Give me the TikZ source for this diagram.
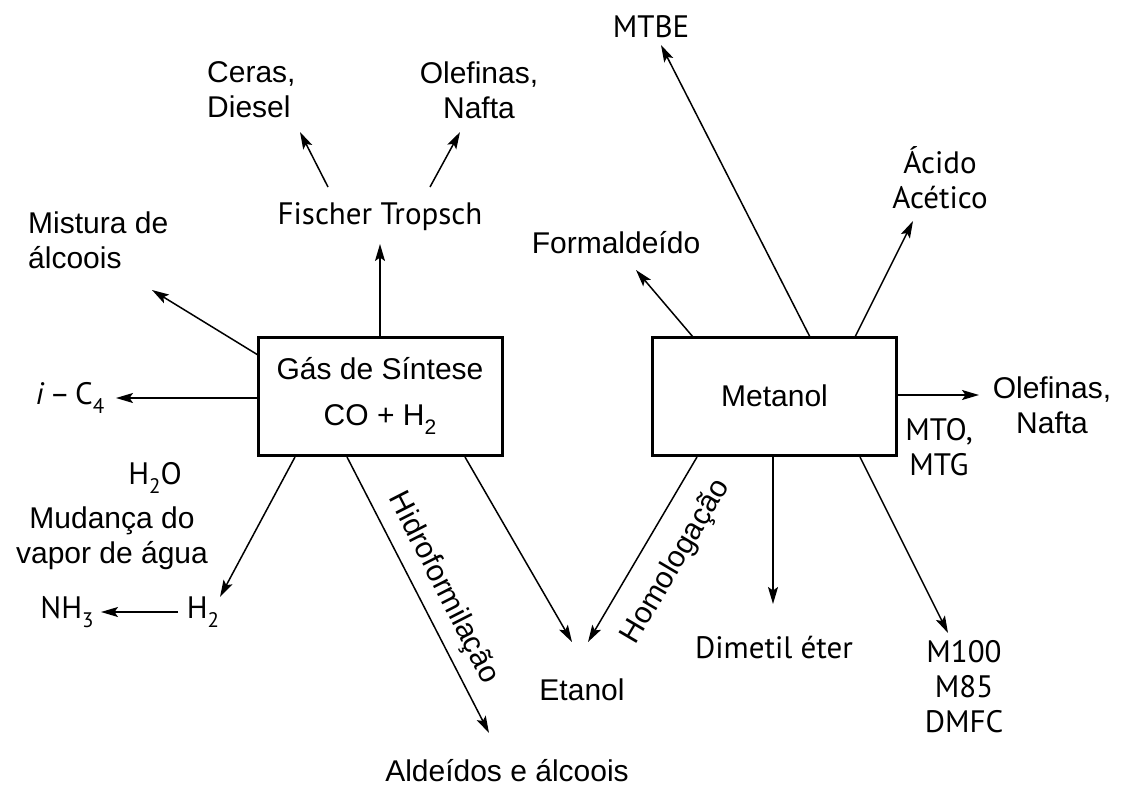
\documentclass[tikz,border=0pt]{standalone}
\usepackage{fontspec}
\setmainfont{Liberation Sans}
\newfontfamily\myr{PT Sans}
\usetikzlibrary{arrows.meta}
\newcommand\subs[1]{\raisebox{-0.3em}{\fontsize{21}{21}\selectfont #1}}
\begin{document}
\begin{tikzpicture}[x=1pt,y=-1pt,
 lab/.style={inner sep=0pt, font=\fontsize{30}{35}\selectfont, align=center},
 labm/.style={inner sep=0pt, font=\myr\fontsize{31}{35}\selectfont, align=center},
 box/.style={draw, line width=3pt, minimum width=244pt, minimum height=118pt, inner sep=0pt, align=center, font=\fontsize{30}{46}\selectfont},
 arr/.style={line width=1.5pt, -{Stealth[length=17pt,width=10pt,inset=3.5pt]}}]
\useasboundingbox[fill=white] (0,0) rectangle (1121,787);

% boxes
\node[box] (gas) at (380,396) {Gás de Síntese\\CO + H\subs{2}};
\node[box] (met) at (774.5,396) {Metanol};

% labels
\node[labm] (ft) at (380,217) {Fischer Tropsch};
\node[lab, align=left, anchor=west] (ceras) at (207,90) {Ceras,\\Diesel};
\node[lab] (olef1) at (479,90) {Olefinas,\\Nafta};
\node[labm] (mtbe) at (651,27) {MTBE};
\node[labm] (acido) at (940,178) {Ácido\\Acético};
\node[lab] (form) at (616,243) {Formaldeído};
\node[lab] (olef2) at (1052,405) {Olefinas,\\Nafta};
\node[labm] (mto) at (939,447) {MTO,\\MTG};
\node[labm] (dme) at (774,648) {Dimetil éter};
\node[labm] (m100) at (964,687) {M100\\M85\\DMFC};
\node[lab] (etanol) at (582,690) {Etanol};
\node[lab] (aldeidos) at (507,771) {Aldeídos e álcoois};
\node[lab, align=left, anchor=west] (mist) at (28,240) {Mistura de\\álcoois};
\node[labm] (ic4) at (70,398) {\textit{i}\,–\,C\subs{4}};
\node[labm] (h2o) at (155,478) {H\subs{2}O};
\node[lab] (mud) at (112,538) {Mudança do\\vapor de água};
\node[labm] (h2) at (203,612) {H\subs{2}};
\node[labm] (nh3) at (67,612) {NH\subs{3}};
\node[lab, rotate=-63] (hidro) at (443,588) {Hidroformilação};
\node[lab, rotate=59.5] (homo) at (676,562) {Homologação};

% coordinates
\coordinate (g1) at (380,337); \coordinate (e1) at (380,244);
\coordinate (g2) at (258,355); \coordinate (e2) at (152,290);
\coordinate (g3) at (258,398); \coordinate (e3) at (116,398);
\coordinate (g4) at (295,457); \coordinate (e4) at (220,597);
\coordinate (g5) at (347,457); \coordinate (e5) at (489,733);
\coordinate (g6) at (465,457); \coordinate (e6) at (572,642);
\coordinate (f1) at (328,187); \coordinate (f1e) at (300,132);
\coordinate (f2) at (430,187); \coordinate (f2e) at (460,132);
\coordinate (h2s) at (178,612); \coordinate (h2e) at (101,612);
\coordinate (m1) at (693,337); \coordinate (n1) at (636,270);
\coordinate (m2) at (810,337); \coordinate (n2) at (661,45);
\coordinate (m3) at (855,337); \coordinate (n3) at (913,221);
\coordinate (m4) at (897,395); \coordinate (n4) at (979,395);
\coordinate (m5) at (773,457); \coordinate (n5) at (773,604);
\coordinate (m6) at (860,457); \coordinate (n6) at (948,633);
\coordinate (m7) at (697,457); \coordinate (n7) at (588,642);

% arrows
\draw[arr] (g1) -- (e1);
\draw[arr] (g2) -- (e2);
\draw[arr] (g3) -- (e3);
\draw[arr] (g4) -- (e4);
\draw[arr] (g5) -- (e5);
\draw[arr] (g6) -- (e6);
\draw[arr] (f1) -- (f1e);
\draw[arr] (f2) -- (f2e);
\draw[arr] (h2s) -- (h2e);
\draw[arr] (m1) -- (n1);
\draw[arr] (m2) -- (n2);
\draw[arr] (m3) -- (n3);
\draw[arr] (m4) -- (n4);
\draw[arr] (m5) -- (n5);
\draw[arr] (m6) -- (n6);
\draw[arr] (m7) -- (n7);
\end{tikzpicture}
\end{document}
